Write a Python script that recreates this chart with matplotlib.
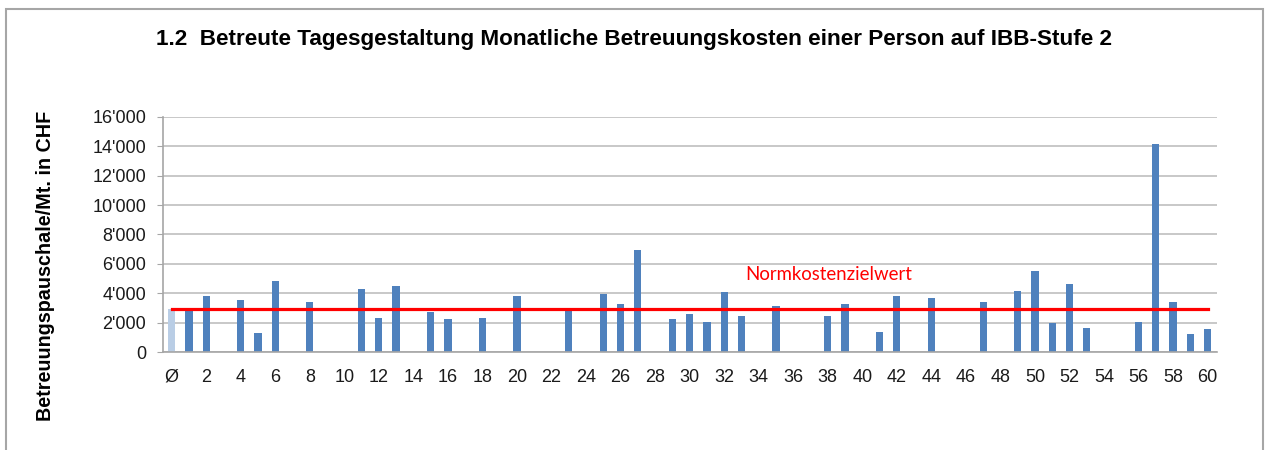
import matplotlib
matplotlib.use("Agg")
import matplotlib.pyplot as plt
from matplotlib.patches import Rectangle

# ---- data ----
categories = ["Ø"] + [str(i) for i in range(1, 61)]
values = [2950, 2950, 3850, 0, 3550, 1330, 4860, 0, 3400, 0,
          0, 4300, 2310, 4500, 0, 2740, 2260, 0, 2310, 0,
          3800, 0, 0, 2920, 0, 3960, 3260, 6950, 0, 2260,
          2620, 2080, 4120, 2490, 0, 3170, 0, 0, 2490, 3300,
          0, 1380, 3790, 0, 3670, 0, 0, 3440, 0, 4160,
          5520, 1990, 4660, 1630, 0, 0, 2080, 14150, 3440, 1260,
          1590]
norm_value = 2950
norm_label = "Normkostenzielwert"
title = "1.2  Betreute Tagesgestaltung Monatliche Betreuungskosten einer Person auf IBB-Stufe 2"
ylabel = "Betreuungspauschale/Mt. in CHF"
yticks = list(range(0, 16001, 2000))
ytick_labels = ["0"] + [f"{v//1000}'000" for v in yticks[1:]]

plt.rcParams['font.family'] = ['Liberation Sans', 'DejaVu Sans']

fig = plt.figure(figsize=(12.66, 4.5), dpi=100)
# outer frame
fig.patches.append(Rectangle((6/1266, -0.1), (1263-6)/1266, 1.1 - 9/450,
                             transform=fig.transFigure, fill=False,
                             edgecolor='#a6a6a6', linewidth=1.5))

ax = fig.add_axes([0.1285, 0.2171, 0.961 - 0.1285, 0.7407 - 0.2171])
x = list(range(len(categories)))
colors = ['#b9cde5'] + ['#4f81bd'] * (len(categories) - 1)
ax.bar(x, values, width=0.42, color=colors, zorder=2)
ax.plot([0, len(categories) - 1], [norm_value, norm_value], color='#ff0000',
        linewidth=2.3, zorder=3)
ax.text(38.06, 5250, norm_label, color='#ff0000', ha='center', va='center',
        fontsize=13.4, family=['Lato', 'DejaVu Sans'])

ax.set_xlim(-0.52, len(categories) - 1 + 0.52)
ax.set_ylim(0, 16000)
ax.set_yticks(yticks)
ax.set_yticklabels(ytick_labels, fontsize=13, color='#1a1a1a')
ax.set_xticks(x[::2])
ax.set_xticklabels(categories[::2], fontsize=13, color='#1a1a1a')
ax.tick_params(axis='x', length=0, pad=12)
ax.tick_params(axis='y', length=4, color='#a6a6a6', pad=8)
ax.yaxis.grid(True, color='#bfbfbf', linewidth=1.2, zorder=0)
ax.set_axisbelow(True)
for s in ['top', 'right']:
    ax.spines[s].set_visible(False)
for s in ['left', 'bottom']:
    ax.spines[s].set_color('#a6a6a6')
    ax.spines[s].set_linewidth(1.2)

fig.text(634/1266, 1 - 39/450, title, ha='center', va='center',
         fontsize=16.2, fontweight='bold')
fig.text(46/1266, 1 - 266/450, ylabel, rotation=90, ha='center', va='center',
         fontsize=14.2, fontweight='bold')

fig.savefig("out.png", dpi=100)
